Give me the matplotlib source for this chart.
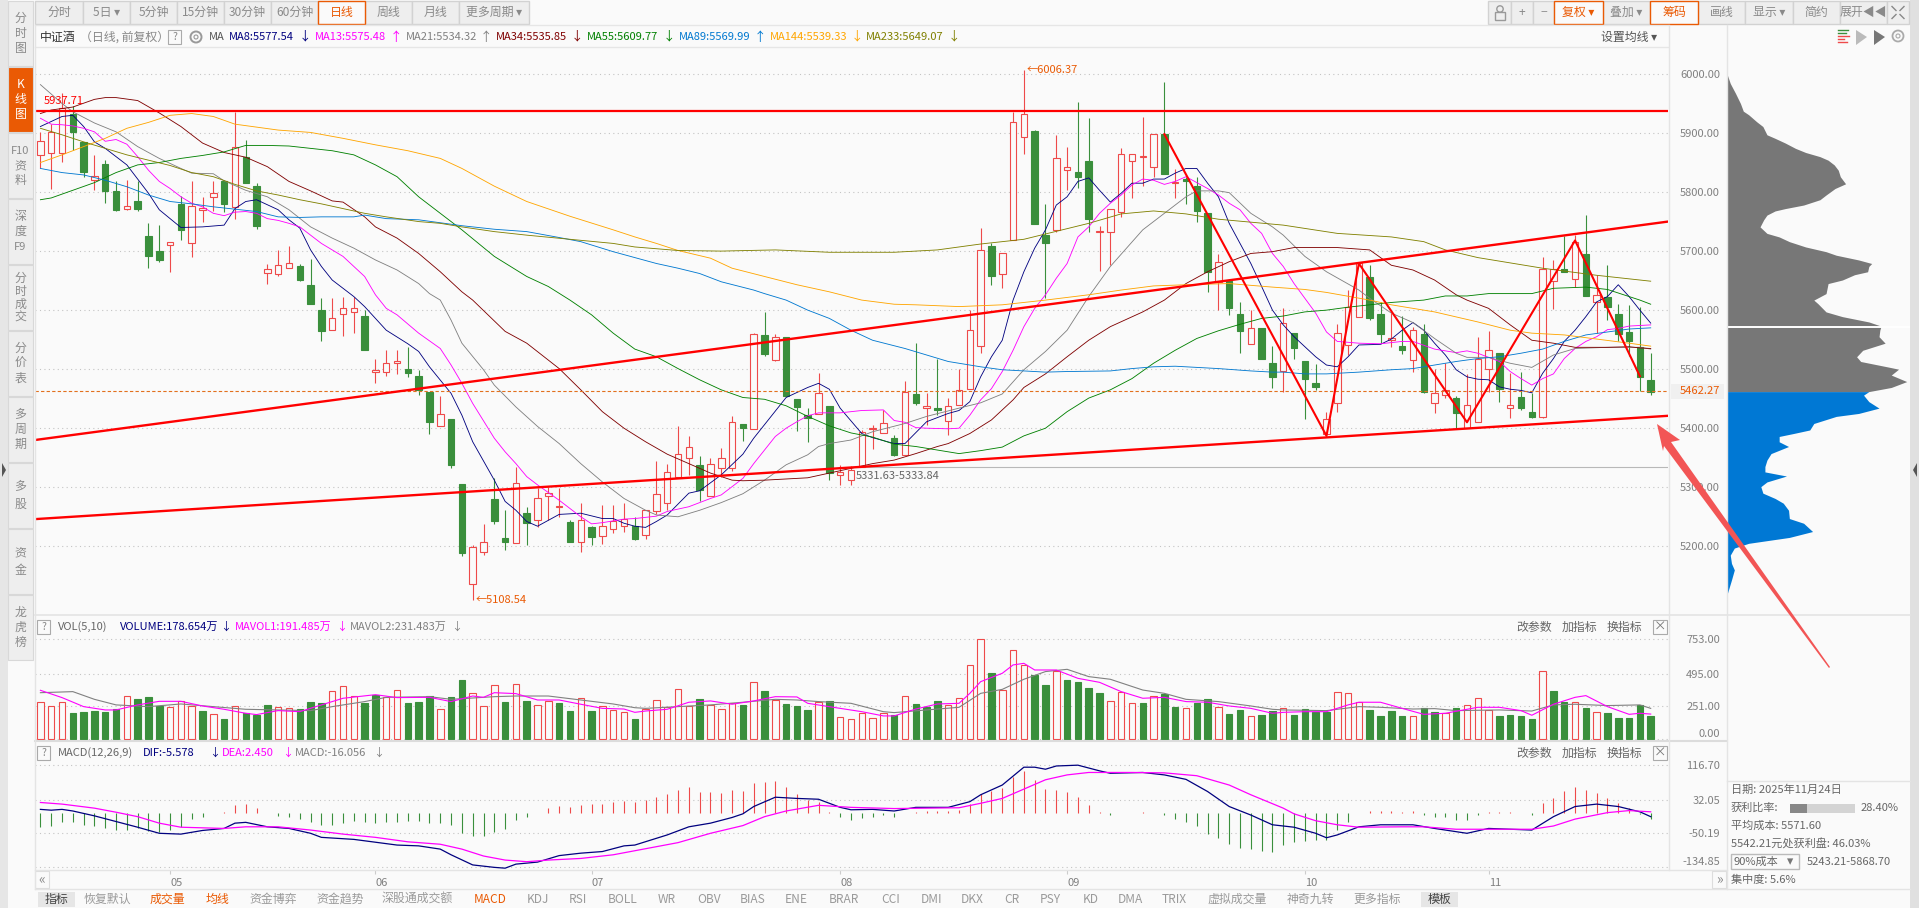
import matplotlib
matplotlib.use('Agg')
import matplotlib.pyplot as plt
import numpy as np
from matplotlib.patches import Rectangle, Polygon, Circle

plt.rcParams['font.family'] = ['Noto Sans CJK SC', 'DejaVu Sans']

W, H = 1919, 908
BG = '#fafafa'
RED = '#ee4a4a'
GREEN = '#3a8f3c'
ORANGE = '#ea5a04'
TXT = '#808080'
MA_COLORS = ['#00007f', '#ff00ff', '#808080', '#7f0000', '#008000', '#0078d0', '#ffa500', '#808000']

opens = [5862, 5866, 5867, 5932, 5885, 5820, 5847, 5802, 5771, 5785,
         5725, 5700, 5710, 5780, 5713, 5769, 5791, 5818, 5774, 5859,
         5810, 5663, 5661, 5672, 5674, 5643, 5600, 5567, 5593, 5596,
         5590, 5495, 5495, 5510, 5500, 5488, 5461, 5404, 5416, 5305,
         5136, 5190, 5280, 5214, 5205, 5256, 5244, 5286, 5266, 5241,
         5207, 5232, 5217, 5229, 5234, 5234, 5219, 5259, 5274, 5317,
         5349, 5338, 5286, 5333, 5333, 5407, 5398, 5558, 5516, 5554,
         5449, 5422, 5424, 5437, 5320, 5313, 5335, 5398, 5392, 5383,
         5354, 5458, 5434, 5434, 5412, 5440, 5467, 5540, 5709, 5661,
         5719, 5893, 5903, 5727, 5735, 5837, 5834, 5853, 5732, 5732,
         5767, 5852, 5859, 5842, 5898, 5815, 5822, 5810, 5764, 5647,
         5649, 5593, 5543, 5570, 5510, 5497, 5561, 5514, 5477, 5391,
         5442, 5541, 5588, 5656, 5593, 5549, 5540, 5516, 5560, 5443,
         5456, 5451, 5401, 5410, 5501, 5527, 5435, 5453, 5427, 5419,
         5650, 5670, 5652, 5695, 5614, 5622, 5593, 5563, 5537, 5482]
highs = [5902, 5916, 5967, 5945, 5885, 5863, 5854, 5818, 5820, 5818,
         5747, 5744, 5716, 5793, 5819, 5792, 5818, 5820, 5936, 5889,
         5815, 5678, 5702, 5709, 5678, 5686, 5620, 5620, 5623, 5623,
         5600, 5518, 5532, 5532, 5538, 5499, 5461, 5455, 5416, 5305,
         5202, 5238, 5315, 5261, 5334, 5267, 5298, 5301, 5298, 5245,
         5273, 5234, 5270, 5270, 5273, 5250, 5261, 5344, 5339, 5404,
         5386, 5353, 5349, 5366, 5421, 5407, 5562, 5596, 5559, 5554,
         5449, 5435, 5493, 5438, 5338, 5336, 5397, 5405, 5430, 5388,
         5480, 5545, 5460, 5517, 5451, 5500, 5601, 5739, 5713, 5696,
         5936, 6006, 5905, 5780, 5897, 5877, 5953, 5926, 5743, 5772,
         5874, 5864, 5927, 5899, 5986, 5839, 5826, 5826, 5764, 5695,
         5649, 5614, 5600, 5570, 5539, 5603, 5561, 5514, 5509, 5427,
         5577, 5634, 5682, 5676, 5614, 5595, 5590, 5572, 5577, 5501,
         5510, 5455, 5492, 5555, 5565, 5527, 5493, 5495, 5459, 5690,
         5685, 5726, 5727, 5761, 5659, 5676, 5611, 5608, 5606, 5527]
lows = [5840, 5806, 5851, 5871, 5826, 5803, 5782, 5768, 5770, 5768,
        5672, 5682, 5665, 5718, 5690, 5749, 5768, 5767, 5754, 5816,
        5737, 5645, 5657, 5672, 5650, 5610, 5548, 5567, 5557, 5561,
        5533, 5477, 5489, 5491, 5486, 5456, 5390, 5404, 5333, 5184,
        5109, 5186, 5237, 5193, 5205, 5203, 5232, 5245, 5249, 5208,
        5191, 5203, 5204, 5222, 5224, 5210, 5213, 5254, 5261, 5317,
        5321, 5277, 5286, 5318, 5328, 5378, 5398, 5523, 5513, 5455,
        5396, 5377, 5424, 5312, 5303, 5304, 5335, 5365, 5392, 5353,
        5354, 5439, 5405, 5422, 5388, 5440, 5467, 5527, 5643, 5638,
        5718, 5864, 5746, 5620, 5733, 5803, 5807, 5733, 5667, 5676,
        5758, 5790, 5811, 5826, 5831, 5790, 5780, 5750, 5631, 5600,
        5592, 5528, 5543, 5518, 5468, 5462, 5517, 5416, 5464, 5386,
        5428, 5524, 5588, 5583, 5544, 5537, 5526, 5496, 5460, 5426,
        5451, 5400, 5400, 5410, 5462, 5445, 5418, 5430, 5418, 5418,
        5602, 5665, 5639, 5624, 5562, 5583, 5548, 5523, 5463, 5456]
closes = [5886, 5901, 5943, 5901, 5834, 5827, 5802, 5770, 5776, 5771,
          5692, 5685, 5716, 5735, 5776, 5773, 5798, 5780, 5877, 5816,
          5743, 5669, 5676, 5679, 5651, 5610, 5564, 5586, 5603, 5603,
          5533, 5499, 5510, 5513, 5494, 5464, 5411, 5424, 5337, 5189,
          5198, 5207, 5242, 5208, 5307, 5239, 5281, 5291, 5268, 5208,
          5244, 5215, 5234, 5242, 5246, 5213, 5261, 5288, 5325, 5356,
          5368, 5295, 5339, 5349, 5410, 5400, 5559, 5526, 5555, 5455,
          5436, 5418, 5459, 5324, 5326, 5330, 5393, 5400, 5408, 5355,
          5462, 5443, 5437, 5430, 5437, 5464, 5566, 5702, 5657, 5696,
          5918, 5932, 5746, 5714, 5857, 5842, 5826, 5755, 5734, 5772,
          5864, 5864, 5861, 5899, 5831, 5817, 5818, 5768, 5665, 5681,
          5604, 5565, 5569, 5518, 5487, 5578, 5536, 5483, 5470, 5415,
          5561, 5606, 5679, 5587, 5559, 5552, 5532, 5566, 5461, 5459,
          5465, 5426, 5439, 5517, 5532, 5466, 5439, 5435, 5419, 5670,
          5670, 5665, 5716, 5624, 5625, 5606, 5560, 5548, 5487, 5462]

ma8_x = [0, 2, 3, 4, 5, 6, 8, 10, 11, 13, 15, 17, 18, 19, 20, 22, 23, 24, 25, 26, 27, 29, 30, 32, 34, 35, 36, 38, 39, 40,
         42, 43, 44, 45, 46, 48, 50, 52, 53, 54, 55, 56, 57, 58, 60, 61, 63, 65, 66, 69, 71, 72, 73, 74, 76, 77, 79, 80,
         82, 84, 85, 86, 87, 88, 89, 90, 91, 92, 93, 94, 95, 96, 97, 98, 99, 100, 101, 102, 103, 104, 105, 106, 107, 108,
         109, 110, 111, 112, 113, 114, 115, 116, 117, 118, 119, 120, 121, 122, 124, 125, 126, 127, 128, 129, 130, 131,
         132, 133, 134, 135, 136, 137, 138, 139, 140, 141, 142, 143, 144, 145, 146, 147, 148, 149]
ma8_y = [5911, 5928, 5930, 5911, 5885, 5874, 5846, 5798, 5770, 5740, 5741, 5744, 5772, 5784, 5787, 5770, 5753, 5739, 5702,
         5674, 5651, 5623, 5606, 5566, 5543, 5530, 5504, 5459, 5422, 5377, 5312, 5276, 5261, 5242, 5234, 5254, 5256, 5247,
         5247, 5239, 5234, 5232, 5242, 5253, 5290, 5294, 5321, 5356, 5383, 5452, 5469, 5476, 5466, 5434, 5391, 5384, 5374,
         5374, 5411, 5425, 5430, 5445, 5487, 5521, 5549, 5617, 5665, 5705, 5736, 5778, 5792, 5818, 5824, 5803, 5783, 5798,
         5815, 5815, 5822, 5822, 5832, 5840, 5840, 5815, 5792, 5747, 5713, 5679, 5640, 5600, 5575, 5555, 5538, 5521, 5507,
         5504, 5521, 5541, 5542, 5551, 5566, 5579, 5566, 5544, 5524, 5499, 5487, 5483, 5482, 5470, 5466, 5464, 5460, 5493,
         5518, 5547, 5566, 5589, 5614, 5623, 5643, 5623, 5600, 5578]
ma13_x = [0, 1, 2, 3, 4, 5, 6, 7, 8, 9, 10, 11, 12, 13, 14, 15, 16, 17, 18, 19, 20, 21, 22, 23, 24, 25, 26, 27, 28, 29, 30,
          31, 32, 33, 35, 37, 38, 39, 40, 42, 43, 44, 45, 46, 48, 49, 50, 51, 52, 53, 54, 55, 57, 58, 60, 62, 63, 65, 66,
          67, 68, 69, 70, 71, 72, 74, 76, 78, 79, 80, 81, 82, 84, 85, 86, 87, 88, 89, 90, 91, 92, 93, 94, 95, 96, 97, 98,
          99, 100, 101, 102, 103, 104, 105, 106, 107, 108, 109, 110, 111, 112, 113, 114, 115, 116, 117, 118, 119, 120,
          122, 124, 126, 127, 129, 131, 132, 133, 135, 136, 137, 138, 139, 140, 141, 142, 143, 144, 145, 146, 147, 148, 149]
ma13_y = [5925, 5915, 5914, 5912, 5908, 5902, 5886, 5889, 5881, 5860, 5837, 5818, 5806, 5792, 5781, 5775, 5764, 5760, 5766,
          5767, 5764, 5755, 5752, 5747, 5741, 5727, 5713, 5702, 5691, 5674, 5657, 5626, 5603, 5592, 5561, 5535, 5507, 5476,
          5442, 5383, 5360, 5340, 5318, 5304, 5278, 5264, 5250, 5238, 5240, 5243, 5246, 5247, 5251, 5259, 5267, 5281, 5287,
          5315, 5340, 5363, 5386, 5400, 5411, 5421, 5426, 5426, 5430, 5431, 5413, 5410, 5401, 5400, 5399, 5400, 5422, 5448,
          5467, 5496, 5532, 5572, 5603, 5626, 5654, 5679, 5724, 5741, 5764, 5781, 5795, 5812, 5822, 5820, 5813, 5818, 5826,
          5816, 5806, 5795, 5781, 5770, 5747, 5730, 5696, 5674, 5645, 5620, 5595, 5563, 5547, 5544, 5543, 5547, 5547, 5534,
          5528, 5531, 5527, 5513, 5496, 5484, 5473, 5484, 5492, 5518, 5535, 5547, 5555, 5567, 5569, 5573, 5574, 5575]
ma21_x = [0, 1, 2, 3, 5, 7, 9, 11, 13, 14, 16, 17, 19, 21, 23, 25, 27, 29, 31, 33, 35, 36, 37, 38, 39, 41, 42, 44, 46, 48,
          50, 52, 54, 56, 57, 59, 61, 63, 65, 67, 69, 71, 72, 73, 75, 77, 80, 82, 85, 87, 89, 91, 93, 95, 97, 99, 102, 104,
          106, 107, 109, 110, 112, 114, 115, 117, 119, 122, 123, 125, 127, 129, 131, 132, 134, 136, 138, 140, 142, 145,
          148, 149]
ma21_y = [5982, 5966, 5950, 5936, 5917, 5902, 5877, 5857, 5840, 5832, 5831, 5819, 5803, 5792, 5770, 5741, 5722, 5705, 5685,
          5668, 5645, 5628, 5617, 5583, 5544, 5499, 5473, 5436, 5403, 5374, 5340, 5309, 5281, 5261, 5253, 5250, 5261, 5274,
          5289, 5312, 5338, 5355, 5369, 5374, 5380, 5394, 5408, 5420, 5434, 5443, 5458, 5499, 5530, 5566, 5623, 5674, 5736,
          5764, 5792, 5802, 5802, 5799, 5764, 5741, 5727, 5691, 5665, 5634, 5620, 5595, 5579, 5552, 5527, 5520, 5520, 5510,
          5503, 5524, 5535, 5537, 5537, 5534]
ma34_x = [0, 1, 3, 5, 6, 7, 9, 11, 13, 15, 17, 19, 21, 23, 25, 27, 28, 30, 31, 33, 35, 37, 39, 40, 43, 45, 48, 50, 52, 54,
          56, 58, 60, 62, 64, 65, 67, 69, 71, 73, 75, 77, 79, 81, 83, 84, 86, 88, 90, 91, 93, 95, 97, 99, 102, 104, 106,
          108, 110, 112, 114, 116, 120, 123, 125, 127, 129, 131, 132, 134, 136, 138, 140, 142, 145, 147, 148, 149]
ma34_y = [5933, 5939, 5944, 5957, 5960, 5960, 5955, 5934, 5911, 5883, 5867, 5859, 5843, 5818, 5802, 5785, 5783, 5758, 5741,
          5722, 5696, 5665, 5631, 5617, 5564, 5544, 5501, 5465, 5428, 5400, 5377, 5356, 5340, 5324, 5312, 5311, 5312, 5314,
          5316, 5324, 5332, 5340, 5346, 5357, 5369, 5374, 5391, 5414, 5448, 5469, 5492, 5521, 5549, 5572, 5597, 5617, 5645,
          5665, 5682, 5696, 5699, 5706, 5706, 5702, 5676, 5668, 5651, 5626, 5617, 5603, 5575, 5549, 5544, 5537, 5537, 5538,
          5536, 5535]
ma55_x = [0, 1, 3, 5, 7, 9, 11, 13, 15, 17, 19, 21, 23, 25, 27, 29, 31, 33, 35, 37, 39, 42, 45, 47, 49, 51, 53, 55, 57, 59,
          61, 63, 65, 67, 69, 71, 73, 75, 77, 79, 81, 83, 85, 87, 89, 91, 93, 95, 97, 99, 101, 103, 105, 107, 109, 111,
          113, 115, 117, 119, 121, 123, 125, 128, 130, 132, 134, 138, 140, 143, 145, 147, 148, 149]
ma55_y = [5787, 5790, 5803, 5816, 5833, 5846, 5850, 5857, 5862, 5868, 5879, 5879, 5878, 5874, 5870, 5863, 5846, 5826, 5792,
          5764, 5736, 5691, 5657, 5640, 5617, 5592, 5561, 5534, 5521, 5501, 5482, 5465, 5452, 5449, 5438, 5420, 5404, 5392,
          5385, 5373, 5369, 5363, 5357, 5362, 5368, 5387, 5400, 5428, 5451, 5465, 5484, 5510, 5532, 5552, 5565, 5576, 5586,
          5590, 5597, 5600, 5605, 5609, 5613, 5617, 5624, 5624, 5628, 5628, 5637, 5639, 5635, 5623, 5617, 5610]
ma89_x = [0, 2, 4, 6, 8, 10, 12, 14, 16, 18, 20, 22, 24, 26, 29, 30, 32, 35, 37, 39, 42, 45, 48, 50, 53, 55, 57, 59, 61, 63,
          66, 67, 69, 71, 73, 75, 77, 80, 82, 84, 87, 89, 91, 93, 95, 99, 101, 103, 105, 107, 109, 112, 114, 115, 117, 119,
          122, 125, 127, 129, 131, 133, 135, 137, 139, 141, 143, 145, 147, 149]
ma89_y = [5840, 5833, 5829, 5820, 5809, 5795, 5784, 5780, 5775, 5771, 5767, 5758, 5757, 5758, 5758, 5761, 5755, 5753, 5748,
          5743, 5737, 5733, 5723, 5716, 5699, 5689, 5679, 5671, 5662, 5648, 5634, 5628, 5617, 5600, 5586, 5566, 5549, 5535,
          5524, 5513, 5504, 5499, 5497, 5495, 5496, 5497, 5501, 5504, 5505, 5503, 5501, 5497, 5495, 5495, 5492, 5492, 5495,
          5499, 5501, 5507, 5513, 5518, 5521, 5527, 5534, 5547, 5558, 5563, 5568, 5570]
ma144_x = [0, 2, 4, 6, 8, 10, 12, 14, 16, 18, 20, 22, 25, 28, 31, 34, 37, 39, 42, 45, 49, 53, 55, 57, 59, 62, 64, 67, 70,
           73, 76, 79, 81, 85, 89, 93, 97, 100, 103, 106, 110, 114, 117, 119, 123, 125, 129, 133, 136, 138, 141, 144, 147,
           149]
ma144_y = [5850, 5863, 5877, 5891, 5908, 5918, 5930, 5933, 5928, 5915, 5910, 5905, 5901, 5891, 5880, 5870, 5857, 5840, 5810,
           5784, 5759, 5736, 5724, 5713, 5701, 5688, 5671, 5657, 5643, 5631, 5617, 5610, 5609, 5606, 5609, 5617, 5626, 5634,
           5641, 5643, 5645, 5639, 5635, 5630, 5617, 5609, 5597, 5580, 5566, 5561, 5558, 5551, 5544, 5539]
ma233_x = [0, 2, 4, 6, 8, 10, 12, 14, 16, 18, 20, 22, 24, 26, 28, 30, 32, 35, 37, 39, 42, 45, 49, 53, 55, 59, 63, 68, 73,
           79, 83, 87, 91, 93, 97, 100, 103, 106, 109, 112, 115, 120, 125, 128, 130, 133, 139, 144, 149]
ma233_y = [5908, 5897, 5885, 5874, 5863, 5854, 5845, 5833, 5826, 5813, 5802, 5795, 5787, 5780, 5772, 5764, 5758, 5750, 5747,
           5741, 5733, 5727, 5720, 5713, 5707, 5701, 5700, 5702, 5698, 5698, 5702, 5712, 5720, 5729, 5747, 5763, 5768, 5763,
           5754, 5749, 5744, 5730, 5724, 5716, 5702, 5689, 5671, 5659, 5649]

ma_names = ['MA8:5577.54', 'MA13:5575.48', 'MA21:5534.32', 'MA34:5535.85', 'MA55:5609.77', 'MA89:5569.99',
            'MA144:5539.33', 'MA233:5649.07']
ma_arrows = ['↓', '↑', '↑', '↓', '↓', '↑', '↓', '↓']

trend_x = [-0.5, 150.6]
upper_channel = [5380, 5750]
lower_channel = [5246, 5421]
resistance = 5937
last_price = 5462.27
support_low = 5333.84
zigzag_x = [104, 119, 122, 132, 142, 148]
zigzag_y = [5898, 5387, 5679, 5410, 5718, 5488]
price_ticks = [6000, 5900, 5800, 5700, 5600, 5500, 5400, 5300, 5200]

volumes = [279, 248, 279, 198, 206, 213, 206, 228, 324, 304,
           319, 248, 241, 286, 248, 213, 188, 153, 248, 196,
           183, 259, 241, 233, 228, 281, 274, 361, 399, 324,
           274, 331, 316, 369, 274, 281, 324, 226, 319, 447,
           346, 248, 407, 281, 414, 289, 256, 286, 274, 213,
           309, 213, 248, 218, 203, 153, 228, 294, 241, 376,
           248, 304, 256, 226, 271, 259, 429, 364, 296, 266,
           251, 221, 279, 286, 166, 151, 196, 158, 196, 181,
           324, 266, 241, 289, 256, 309, 557, 753, 499, 369,
           670, 557, 484, 409, 512, 447, 432, 387, 349, 286,
           356, 271, 274, 324, 341, 243, 233, 274, 304, 241,
           191, 221, 173, 183, 213, 233, 183, 228, 206, 206,
           354, 346, 279, 221, 176, 213, 176, 173, 233, 206,
           196, 236, 256, 309, 218, 176, 183, 176, 153, 512,
           364, 281, 279, 236, 203, 198, 161, 161, 259, 176]
vol_dirs = ('RRRGGGGGRG' 'GGRRRGRGRG' 'GGRRGGGRRR' 'GGRRGGGRGG' 'RRRGRGRRGG'
            'RGRRRGRRRR' 'RGRRRGRGRG' 'GGRGRRRRRG' 'RGGGRRRRGR' 'RRGGRGGGGR'
            'RRGRGGRGGR' 'GGRGGRGGGG' 'RRRGGGGRGG' 'RGRRRGGGGR' 'GGRGRGGGGG')
mavol1_x = [0, 2, 4, 6, 7, 9, 11, 13, 15, 17, 19, 20, 22, 24, 26, 28, 31, 33, 36, 38, 40, 41, 42, 44, 46, 48, 50, 52, 54,
            55, 56, 58, 60, 62, 64, 66, 68, 70, 71, 74, 76, 78, 79, 81, 83, 85, 86, 87, 89, 90, 91, 92, 94, 96, 98, 100,
            102, 104, 106, 108, 110, 112, 114, 115, 117, 119, 121, 122, 124, 126, 128, 130, 132, 133, 135, 137, 138, 140,
            142, 143, 145, 147, 148, 149]
mavol1_y = [369, 314, 246, 221, 221, 259, 286, 286, 251, 226, 196, 186, 216, 208, 259, 309, 336, 314, 316, 284, 326, 316,
            351, 344, 296, 296, 264, 233, 228, 203, 213, 226, 279, 289, 264, 289, 321, 319, 271, 233, 208, 176, 176, 228,
            266, 271, 346, 434, 497, 560, 572, 522, 522, 459, 429, 359, 309, 316, 284, 279, 251, 233, 196, 203, 208, 208,
            259, 279, 279, 233, 188, 196, 226, 241, 241, 216, 181, 264, 316, 329, 246, 188, 196, 190]
mavol2_x = [0, 3, 5, 7, 10, 13, 16, 19, 22, 25, 27, 30, 32, 36, 38, 42, 44, 47, 50, 53, 55, 56, 59, 62, 65, 68, 70, 72, 75,
            78, 79, 82, 85, 87, 89, 91, 93, 95, 97, 99, 102, 104, 106, 109, 112, 114, 115, 119, 122, 124, 127, 129, 131,
            135, 138, 140, 142, 145, 148, 149]
mavol2_y = [351, 359, 301, 259, 246, 266, 246, 226, 221, 216, 246, 284, 316, 321, 301, 321, 326, 326, 296, 266, 238, 233,
            246, 259, 279, 301, 296, 284, 271, 208, 201, 221, 241, 346, 376, 452, 510, 527, 472, 452, 371, 346, 301, 284,
            251, 226, 221, 216, 246, 241, 228, 231, 216, 221, 213, 259, 264, 254, 259, 233]
vol_ticks = [753, 495, 251, 0]
vol_tick_labels = ['753.00', '495.00', '251.00', '0.00']

macd_bars = [-35, -33, -23, -23, -30, -33, -38, -43, -43, -38,
             -46, -49, -43, -36, -16, -10, -2, 1, 19, 21,
             12, -2, -8, -12, -16, -23, -30, -30, -25, -21,
             -23, -26, -23, -23, -21, -21, -26, -25, -31, -51,
             -58, -58, -48, -41, -18, -12, 0, 11, 16, 13,
             19, 21, 21, 25, 29, 27, 31, 39, 46, 56,
             62, 51, 51, 48, 56, 53, 73, 76, 78, 63,
             46, 31, 26, 2, -10, -18, -13, -10, -5, -10,
             -1, 2, 4, 4, 4, 7, 21, 46, 53, 61,
             88, 103, 81, 58, 56, 51, 39, 19, 2, -5,
             0, 0, 2, 0, -5, -15, -23, -33, -53, -62,
             -77, -87, -90, -95, -97, -79, -72, -69, -67, -67,
             -44, -23, 0, 4, 4, 4, 2, 4, -5, -12,
             -12, -18, -18, -5, 2, 2, 2, -2, -5, 24,
             36, 53, 63, 56, 48, 36, 24, 12, -3, -16]
dif_x = [0, 1, 2, 3, 5, 7, 9, 11, 13, 15, 17, 18, 19, 21, 23, 25, 26, 29, 31, 33, 35, 37, 38, 40, 42, 43, 44, 46, 48, 50,
         52, 54, 55, 58, 60, 62, 64, 65, 66, 68, 70, 72, 74, 75, 77, 79, 81, 84, 86, 87, 89, 91, 92, 93, 94, 96, 98, 99,
         102, 104, 106, 108, 110, 112, 114, 116, 118, 119, 120, 122, 124, 127, 129, 131, 132, 134, 136, 138, 140, 142,
         144, 146, 148, 149]
dif_y = [8, 6, 8, 4, -8, -22, -36, -51, -53, -44, -39, -26, -24, -35, -39, -51, -61, -66, -73, -80, -82, -90, -104, -129,
         -135, -137, -127, -122, -106, -100, -96, -82, -80, -55, -35, -26, -12, -3, 15, 38, 35, 33, 13, 7, 8, 4, 13, 13,
         27, 44, 68, 112, 112, 107, 115, 117, 103, 97, 99, 93, 82, 52, 15, -6, -30, -36, -51, -62, -55, -35, -30, -30, -39,
         -47, -51, -39, -41, -43, -10, 15, 21, 15, 2, -10]
dea_x = [0, 2, 5, 7, 9, 11, 13, 17, 19, 22, 25, 28, 31, 34, 37, 39, 41, 43, 45, 47, 50, 53, 55, 59, 62, 65, 67, 69, 72, 75,
         79, 82, 85, 87, 89, 91, 93, 95, 97, 101, 104, 107, 110, 112, 115, 116, 118, 120, 122, 126, 128, 131, 135, 138,
         140, 142, 145, 147, 149]
dea_y = [25, 21, 11, 1, -10, -26, -36, -39, -35, -35, -43, -53, -61, -72, -78, -90, -107, -117, -121, -117, -113, -104, -94,
         -74, -51, -32, -10, 4, 18, 13, 10, 11, 12, 23, 35, 58, 81, 93, 99, 99, 98, 91, 68, 44, 11, -3, -20, -30, -36, -35,
         -35, -41, -41, -41, -33, -16, 0, 5, 2]
macd_ticks = [116.70, 32.05, -50.19, -134.85]
macd_tick_labels = ['116.70', '32.05', '-50.19', '-134.85']

month_x = [12, 31, 51, 74, 95, 117, 134]
month_labels = ['05', '06', '07', '08', '09', '10', '11']

chip_up_price = [6000, 5984, 5967, 5950, 5937, 5931, 5919, 5911, 5897, 5891, 5883, 5874, 5867, 5860, 5854, 5846, 5837, 5826,
                 5814, 5806, 5795, 5787, 5778, 5772, 5768, 5761, 5753, 5741, 5730, 5724, 5716, 5707, 5699, 5693, 5685, 5679,
                 5674, 5665, 5660, 5651, 5645, 5628, 5617, 5611, 5597, 5589, 5580, 5573, 5566, 5555, 5544, 5532, 5521, 5513,
                 5504, 5500, 5490, 5479, 5469, 5462]
chip_up = [0, 8, 21, 33, 40, 53, 73, 88, 98, 118, 143, 168, 193, 228, 248, 263, 273, 278, 291, 265, 243, 228, 188, 143, 118,
           98, 90, 81, 98, 128, 153, 193, 243, 268, 323, 355, 348, 345, 313, 283, 248, 243, 213, 223, 243, 283, 348, 378,
           375, 373, 388, 333, 318, 328, 393, 421, 403, 441, 403, 348]
chip_down_price = [5462, 5456, 5445, 5434, 5425, 5420, 5408, 5397, 5391, 5386, 5377, 5369, 5357, 5346, 5335, 5326, 5319, 5309,
                   5301, 5290, 5281, 5273, 5261, 5247, 5239, 5225, 5215, 5205, 5197, 5185, 5171, 5160, 5143, 5118]
chip_down = [348, 335, 348, 373, 323, 268, 213, 203, 163, 128, 128, 151, 108, 98, 93, 93, 146, 98, 83, 88, 118, 138, 151, 153,
             188, 210, 153, 53, 18, 8, 11, 18, 11, 0]
avg_cost = 5571.60

left_tabs = [['分', '时', '图'], ['K', '线', '图'], ['F10', '资', '料'], ['深', '度', 'F9'], ['分', '时', '成', '交'],
             ['分', '价', '表'], ['多', '周', '期'], ['多', '股'], ['资', '金'], ['龙', '虎', '榜']]
top_left_labels = ['分时', '5日 ▾', '5分钟', '15分钟', '30分钟', '60分钟', '日线', '周线', '月线', '更多周期 ▾']
top_left_edges = [35, 83, 130, 177, 224, 271, 318, 365, 412, 459, 529]
top_right_labels = ['', '+', '−', '复权 ▾', '叠加 ▾', '筹码', '画线', '显示 ▾', '简约', '展开◀◀', '']
top_right_edges = [1488, 1511, 1533, 1554, 1603, 1650, 1698, 1745, 1793, 1840, 1887, 1909]
bottom_labels = ['恢复默认', '成交量', '均线', '资金博弈', '资金趋势', '深股通成交额', 'MACD', 'KDJ', 'RSI', 'BOLL', 'WR', 'OBV',
                 'BIAS', 'ENE', 'BRAR', 'CCI', 'DMI', 'DKX', 'CR', 'PSY', 'KD', 'DMA', 'TRIX', '虚拟成交量', '神奇九转', '更多指标']
bottom_lefts = [84, 150, 206, 249, 316, 382, 474, 527, 569, 608, 658, 697, 740, 785, 829, 881, 921, 961, 1004, 1040, 1083,
                1118, 1162, 1207, 1287, 1353]
bottom_hot = ['成交量', '均线', 'MACD']


def place(fig, x0, y0, x1, y1):
    ax = fig.add_axes([x0 / W, 1 - y1 / H, (x1 - x0) / W, (y1 - y0) / H])
    ax.set_facecolor('none')
    for s in ax.spines.values():
        s.set_visible(False)
    return ax


def yAxis(ax, ticks, labels):
    ax.yaxis.tick_right()
    ax.set_yticks(ticks)
    ax.set_yticklabels(labels, fontsize=8, color=TXT, ha='right')
    ax.tick_params(axis='y', length=0, pad=37.5)
    ax.grid(axis='y', linestyle=(0, (1, 3)), color='#c4c4c4', linewidth=0.8)
    ax.set_axisbelow(True)
    ax.set_xlim(-0.5, 150.6)


def drawCandles(ax):
    x = np.arange(len(closes))
    o, h, l, c = map(np.array, (opens, highs, lows, closes))
    up = c >= o
    colors = [RED if u else GREEN for u in up]
    ax.vlines(x, l, h, colors=colors, linewidth=0.8, zorder=2)
    ax.bar(x, np.abs(c - o), bottom=np.minimum(o, c), width=0.6, color=[BG if u else GREEN for u in up],
           edgecolor=colors, linewidth=0.8, zorder=3)


def drawPrice(ax):
    yAxis(ax, price_ticks, ['%.2f' % p for p in price_ticks])
    ax.set_ylim(5083.6, 6045.7)
    ax.set_xticks([])
    drawCandles(ax)
    series = [(ma8_x, ma8_y), (ma13_x, ma13_y), (ma21_x, ma21_y), (ma34_x, ma34_y), (ma55_x, ma55_y), (ma89_x, ma89_y),
              (ma144_x, ma144_y), (ma233_x, ma233_y)]
    for (mx, my), col in zip(series, MA_COLORS):
        ax.plot(mx, my, color=col, linewidth=0.62, zorder=4)
    ax.axhline(last_price, color='#e2701e', linewidth=0.8, linestyle=(0, (3, 2)), zorder=4)
    ax.plot([75.4, 150.6], [support_low, support_low], color='#b8b8b8', linewidth=0.8, zorder=1)
    ax.axhline(resistance, color='#ff0000', linewidth=1.6, zorder=6)
    ax.plot(trend_x, upper_channel, color='#ff0000', linewidth=1.7, zorder=6)
    ax.plot(trend_x, lower_channel, color='#ff0000', linewidth=1.7, zorder=6)
    ax.plot(zigzag_x, zigzag_y, color='#ff0000', linewidth=1.5, zorder=6)
    ax.annotate('←6006.37', (91, max(highs)), xytext=(2, 0), textcoords='offset points', color=ORANGE, fontsize=8, va='center')
    ax.annotate('←5108.54', (40, min(lows)), xytext=(2, 0), textcoords='offset points', color=ORANGE, fontsize=8, va='center')
    ax.annotate('5331.63-5333.84', (75.4, support_low), xytext=(0, -6), textcoords='offset points', color='#666666',
                fontsize=8, va='center')


def drawVolume(ax):
    yAxis(ax, vol_ticks, vol_tick_labels)
    ax.set_ylim(-12.8, 936)
    ax.set_xticks([])
    x = np.arange(len(volumes))
    up = [d == 'R' for d in vol_dirs]
    ax.bar(x, volumes, width=0.6, color=[BG if u else GREEN for u in up], edgecolor=[RED if u else GREEN for u in up],
           linewidth=0.8, zorder=2)
    ax.plot(mavol2_x, mavol2_y, color='#808080', linewidth=0.8, zorder=3)
    ax.plot(mavol1_x, mavol1_y, color='#ff00ff', linewidth=0.8, zorder=4)
    ax.get_yticklabels()[-1].set_va('bottom')


def drawMacd(ax):
    yAxis(ax, macd_ticks, macd_tick_labels)
    ax.set_ylim(-141.5, 176.6)
    x = np.arange(len(macd_bars))
    colors = [RED if v > 0 else GREEN for v in macd_bars]
    ax.vlines(x, 0, macd_bars, colors=colors, linewidth=0.8, zorder=2)
    ax.plot(dif_x, dif_y, color='#00007f', linewidth=0.9, zorder=3)
    ax.plot(dea_x, dea_y, color='#ff00ff', linewidth=0.9, zorder=4)
    ax.set_xticks(month_x)
    ax.set_xticklabels(month_labels, fontsize=8, color=TXT, ha='left')
    ax.tick_params(axis='x', length=3, color='#cccccc', pad=3)
    ax.get_yticklabels()[-1].set_va('bottom')


def drawChips(ax):
    ax.set_xlim(0, 449)
    ax.set_ylim(5083.6, 6045.7)
    ax.set_xticks([])
    ax.set_yticks([])
    ax.fill_betweenx(chip_up_price, 0, chip_up, color='#777777', linewidth=0)
    ax.fill_betweenx(chip_down_price, 0, chip_down, color='#0078d4', linewidth=0)
    ax.axhline(avg_cost, color='white', linewidth=1.4)


def button(ax, x0, x1, y0, y1, s, hot=False, size=8.6):
    edge = ORANGE if hot else '#d2d2d2'
    face = BG if hot else '#eeeeee'
    ax.add_patch(Rectangle((x0, y0), x1 - x0, y1 - y0, facecolor=face, edgecolor=edge, linewidth=1))
    ax.text((x0 + x1) / 2, (y0 + y1) / 2, s, color=ORANGE if hot else '#8a8a8a', fontsize=size, ha='center', va='center')


def legendRow(ax, y, items):
    for x, s, col in items:
        ax.text(x, y, s, color=col, fontsize=8, va='center')


def helpBox(ax, x, y):
    ax.add_patch(Rectangle((x, y - 7), 13, 14, facecolor=BG, edgecolor='#aaaaaa', linewidth=0.8))
    ax.text(x + 6.5, y, '?', color='#888888', fontsize=7.5, ha='center', va='center')


def drawUi(ax):
    ax.set_xlim(0, W)
    ax.set_ylim(H, 0)
    ax.axis('off')
    # side strips
    ax.add_patch(Rectangle((0, 0), 8, H, facecolor='#e6e6e6', edgecolor='none'))
    ax.add_patch(Rectangle((1910, 0), 9, H, facecolor='#e0e0e0', edgecolor='none'))
    ax.add_patch(Polygon([[2, 463], [6, 470], [2, 477]], facecolor='#555555', edgecolor='none'))
    ax.add_patch(Polygon([[1917, 463], [1913, 470], [1917, 477]], facecolor='#555555', edgecolor='none'))
    for n, rows in enumerate(left_tabs):
        y0 = 1 + n * 66
        active = n == 1
        ax.add_patch(Rectangle((8, y0), 25, 65, facecolor=ORANGE if active else '#eeeeee', edgecolor='#d8d8d8', linewidth=0.8))
        step = {2: 18, 3: 15, 4: 13}[len(rows)]
        mid = y0 + 32.5
        for k, s in enumerate(rows):
            ax.text(20.5, mid + (k - (len(rows) - 1) / 2) * step, s, color='white' if active else '#8a8a8a',
                    fontsize=8 if len(s) > 1 else 8.6, ha='center', va='center')

    # toolbars
    for k, s in enumerate(top_left_labels):
        if s != '日线':
            button(ax, top_left_edges[k], top_left_edges[k + 1], 1, 24, s)
    k = top_left_labels.index('日线')
    button(ax, top_left_edges[k], top_left_edges[k + 1], 1, 24, '日线', hot=True)
    for k, s in enumerate(top_right_labels):
        if s not in ('复权 ▾', '筹码'):
            button(ax, top_right_edges[k], top_right_edges[k + 1], 1, 24, s)
    for s in ('复权 ▾', '筹码'):
        k = top_right_labels.index(s)
        button(ax, top_right_edges[k], top_right_edges[k + 1], 1, 24, s, hot=True)
    ax.add_patch(Rectangle((1495, 12), 10, 8, facecolor='none', edgecolor='#999999', linewidth=1))
    ax.add_patch(Circle((1500, 9), 3.2, facecolor='none', edgecolor='#999999', linewidth=1))
    for sx, sy in ((-1, -1), (1, -1), (-1, 1), (1, 1)):
        ax.plot([1898 + sx * 2, 1898 + sx * 6], [12.5 + sy * 2, 12.5 + sy * 6], color='#888888', linewidth=1)

    # panel frames
    for y in (25, 47):
        ax.plot([35, 1668], [y, y], color='#e6e6e6', linewidth=1)
    ax.plot([35, 1910], [615, 615], color='#e4e4e4', linewidth=1.2)
    ax.plot([35, 1727], [741, 741], color='#dcdcdc', linewidth=1.5)
    ax.plot([35, 1727], [870, 870], color='#e4e4e4', linewidth=1)
    ax.plot([35, 1910], [889, 889], color='#e4e4e4', linewidth=1)
    ax.plot([1669, 1669], [25, 870], color='#e4e4e4', linewidth=1)
    ax.plot([1727, 1727], [25, 889], color='#e4e4e4', linewidth=1)
    ax.plot([35, 35], [25, 889], color='#e4e4e4', linewidth=1)
    ax.plot([1727, 1910], [780.5, 780.5], color='#e4e4e4', linewidth=1)

    # price header
    ax.text(40, 37, '中证酒', color='#333333', fontsize=8.6, va='center')
    ax.text(80, 37, '（日线, 前复权）', color='#888888', fontsize=8.6, va='center')
    helpBox(ax, 168, 37)
    ax.add_patch(Circle((196, 37), 5.5, facecolor='none', edgecolor='#999999', linewidth=1.4))
    ax.add_patch(Circle((196, 37), 2, facecolor='none', edgecolor='#999999', linewidth=0.8))
    ax.text(209, 37, 'MA', color='#555555', fontsize=8, va='center')
    ma_x = [229, 315, 406, 496, 587, 679, 770, 866]
    arrow_x = [305, 396, 486, 577, 669, 760, 857, 954]
    for k in range(len(ma_names)):
        ax.text(ma_x[k], 37, ma_names[k], color=MA_COLORS[k], fontsize=8, va='center')
        ax.text(arrow_x[k], 37, ma_arrows[k], color=MA_COLORS[k], fontsize=9, ha='center', va='center')
    ax.text(1601, 37, '设置均线 ▾', color='#555555', fontsize=8.6, va='center')
    ax.text(44, 101, '5937.71', color='#ff0000', fontsize=8, va='center')

    # chips icons
    for k, w in enumerate((10, 8, 11, 6, 9)):
        ax.plot([1838, 1838 + w], [30 + k * 3, 30 + k * 3], color='#3a8f3c' if k < 2 else '#ee4a4a', linewidth=1)
    for px, col in ((1856, '#bbbbbb'), (1874, '#777777')):
        ax.add_patch(Polygon([[px, 30], [px + 11, 37], [px, 45]], facecolor=col, edgecolor='none'))
    ax.add_patch(Circle((1898, 36), 5.5, facecolor='none', edgecolor='#aaaaaa', linewidth=1.3))
    ax.add_patch(Circle((1898, 36), 2, facecolor='none', edgecolor='#aaaaaa', linewidth=0.8))

    # last price tag
    ax.add_patch(Rectangle((1671, 384), 53, 15, facecolor='#f0f0f0', edgecolor='none'))
    ax.text(1720, 391.5, '%.2f' % last_price, color=ORANGE, fontsize=8, ha='right', va='center')

    # volume and macd headers
    helpBox(ax, 37, 627)
    legendRow(ax, 627, [(58, 'VOL(5,10)', '#666666'), (120, 'VOLUME:178.654万', '#00007f'), (220, '↓', '#00007f'),
                        (235, 'MAVOL1:191.485万', '#ff00ff'), (336, '↓', '#ff00ff'), (350, 'MAVOL2:231.483万', '#808080'),
                        (451, '↓', '#808080')])
    helpBox(ax, 37, 753)
    legendRow(ax, 753, [(58, 'MACD(12,26,9)', '#666666'), (143, 'DIF:-5.578', '#00007f'), (209, '↓', '#00007f'),
                        (222, 'DEA:2.450', '#ff00ff'), (282, '↓', '#ff00ff'), (295, 'MACD:-16.056', '#808080'),
                        (373, '↓', '#808080')])
    for y in (627, 753):
        for x, s in ((1516, '改参数'), (1562, '加指标'), (1607, '换指标')):
            ax.text(x, y, s, color='#666666', fontsize=8.6, va='center')
        ax.add_patch(Rectangle((1653, y - 7), 14, 14, facecolor=BG, edgecolor='#aaaaaa', linewidth=0.8))
        ax.text(1660, y, '×', color='#777777', fontsize=9, ha='center', va='center')

    # chip stats
    stat = '#666666'
    ax.text(1731, 790, '日期: 2025年11月24日', color=stat, fontsize=8, va='center')
    ax.text(1731, 808, '获利比率:', color=stat, fontsize=8, va='center')
    ax.add_patch(Rectangle((1790, 804), 65, 8.5, facecolor='#d4d4d4', edgecolor='none', joinstyle='round'))
    ax.add_patch(Rectangle((1790, 804), 17, 8.5, facecolor='#888888', edgecolor='none', joinstyle='round'))
    ax.text(1861, 808, '28.40%', color=stat, fontsize=8, va='center')
    ax.text(1731, 826, '平均成本: 5571.60', color=stat, fontsize=8, va='center')
    ax.text(1731, 844, '5542.21元处获利盘: 46.03%', color=stat, fontsize=8, va='center')
    ax.add_patch(Rectangle((1731, 854), 68, 15, facecolor=BG, edgecolor='#bbbbbb', linewidth=1))
    ax.text(1734, 861.5, '90%成本', color=stat, fontsize=8, va='center')
    ax.text(1790, 861.5, '▾', color='#777777', fontsize=9, ha='center', va='center')
    ax.text(1807, 862, '5243.21-5868.70', color=stat, fontsize=8, va='center')
    ax.text(1731, 880, '集中度: 5.6%', color=stat, fontsize=8, va='center')

    # bottom bar
    ax.add_patch(Rectangle((35, 871), 14, 17, facecolor=BG, edgecolor='#dddddd', linewidth=0.8))
    ax.text(42, 879, '«', color='#888888', fontsize=10, ha='center', va='center')
    ax.add_patch(Rectangle((1712, 871), 14, 17, facecolor=BG, edgecolor='#dddddd', linewidth=0.8))
    ax.text(1719, 879, '»', color='#888888', fontsize=10, ha='center', va='center')
    ax.add_patch(Rectangle((38, 892), 37, 15, facecolor='#e6e6e6', edgecolor='none'))
    ax.text(56.5, 899.5, '指标', color='#444444', fontsize=8.6, ha='center', va='center')
    ax.add_patch(Rectangle((1421, 892), 37, 15, facecolor='#e6e6e6', edgecolor='none'))
    ax.text(1439.5, 899.5, '模板', color='#444444', fontsize=8.6, ha='center', va='center')
    for x, s in zip(bottom_lefts, bottom_labels):
        ax.text(x, 899.5, s, color=ORANGE if s in bottom_hot else '#9a9a9a', fontsize=8.6, va='center')

    # hand drawn arrow
    ax.add_patch(Polygon([[1657, 424], [1680, 440], [1671, 442], [1830, 667], [1829, 668], [1664, 446], [1663, 451]],
                         facecolor='#f25555', edgecolor='none', zorder=10))


def createGraph(outputFile):
    fig = plt.figure(figsize=(W / 100, H / 100), dpi=100, facecolor=BG)
    price = place(fig, 35, 47, 1668, 615)
    vol = place(fig, 35, 615, 1668, 741)
    macd = place(fig, 35, 741, 1668, 870)
    chips = place(fig, 1727, 47, 1910, 615)
    drawPrice(price)
    drawVolume(vol)
    drawMacd(macd)
    drawChips(chips)
    ui = place(fig, 0, 0, W, H)
    drawUi(ui)
    fig.savefig(outputFile, dpi=100, facecolor=BG)


if __name__ == '__main__':
    createGraph('out.png')
